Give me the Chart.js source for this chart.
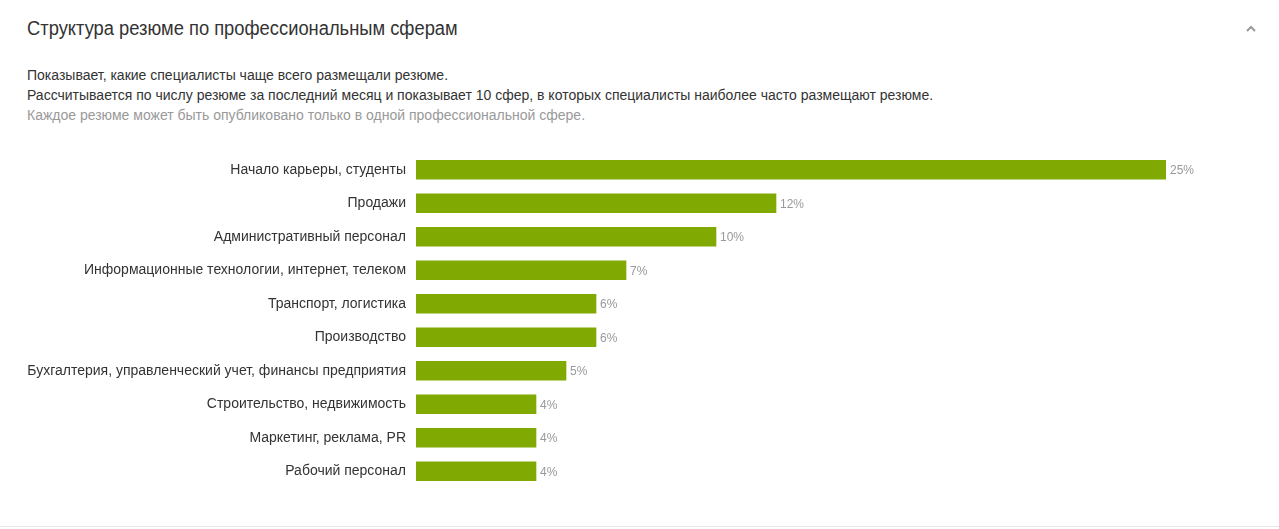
<!DOCTYPE html>
<html>
<head>
<meta charset="utf-8">
<script src="https://cdn.jsdelivr.net/npm/chart.js@4"></script>
<style>
  html, body { margin: 0; padding: 0; background: #fff; }
  body { width: 1279px; height: 529px; position: relative; overflow: hidden;
         font-family: Arial, "Liberation Sans", sans-serif; color: #333; }
  .title { position: absolute; left: 27px; top: 16px; font-size: 20px; line-height: 24px; color: #333;
           white-space: nowrap; transform: scaleX(0.917); transform-origin: left center; }
  .toggle { position: absolute; left: 1245px; top: 24px; width: 12px; height: 10px; }
  .desc { position: absolute; left: 27px; top: 65px; font-size: 14px; line-height: 20px; color: #333; }
  .desc .muted { color: #999; }
  .chart-box { position: absolute; left: 0; top: 153px; width: 1279px; height: 335px; }
  .bottom-line { position: absolute; left: 0; right: 0; top: 526px; height: 1px; background: #e6e6e6; }
</style>
</head>
<body>
<div class="title">Структура резюме по профессиональным сферам</div>
<svg class="toggle" viewBox="0 0 12 10"><polyline points="2,7 6,3 10,7" fill="none" stroke="#999" stroke-width="2"/></svg>
<div class="desc">
  Показывает, какие специалисты чаще всего размещали резюме.<br>
  Рассчитывается по числу резюме за последний месяц и показывает 10 сфер, в которых специалисты наиболее часто размещают резюме.<br>
  <span class="muted">Каждое резюме может быть опубликовано только в одной профессиональной сфере.</span>
</div>
<div class="chart-box"><canvas id="myChart"></canvas></div>
<div class="bottom-line"></div>

<script>
// chart data
const categories = [
    'Начало карьеры, студенты',
    'Продажи',
    'Административный персонал',
    'Информационные технологии, интернет, телеком',
    'Транспорт, логистика',
    'Производство',
    'Бухгалтерия, управленческий учет, финансы предприятия',
    'Строительство, недвижимость',
    'Маркетинг, реклама, PR',
    'Рабочий персонал'
];
const shares = [25, 12, 10, 7, 6, 6, 5, 4, 4, 4];
const axisMax = 25;

// подписи процентов справа от столбцов
const valueLabels = {
    id: 'valueLabels',
    afterDatasetsDraw(chart) {
        const ctx = chart.ctx;
        const meta = chart.getDatasetMeta(0);
        ctx.save();
        ctx.font = '12px Arial, "Liberation Sans", sans-serif';
        ctx.fillStyle = '#999';
        ctx.textAlign = 'left';
        ctx.textBaseline = 'middle';
        meta.data.forEach((bar, i) => {
            ctx.fillText(shares[i] + '%', bar.x + 4, bar.y + 1);
        });
        ctx.restore();
    }
};

const config = {
    type: 'bar',
    data: {
        labels: categories,
        datasets: [{
            data: shares,
            backgroundColor: '#80a901',
            barThickness: 19,
            borderWidth: 0
        }]
    },
    options: {
        indexAxis: 'y',
        responsive: true,
        maintainAspectRatio: false,
        animation: false,
        layout: {
            padding: { left: 0, right: 113, top: 0, bottom: 0 }
        },
        plugins: {
            legend: { display: false },
            tooltip: { enabled: false }
        },
        scales: {
            x: {
                display: false,
                min: 0,
                max: axisMax
            },
            y: {
                grid: { display: false, drawTicks: false },
                border: { display: false },
                ticks: {
                    color: '#333',
                    padding: 10,
                    font: { size: 14, family: 'Arial, "Liberation Sans", sans-serif' }
                },
                afterFit: function(scale) {
                    scale.width = 416;
                    scale.paddingTop = 0;
                    scale.paddingBottom = 0;
                }
            }
        }
    },
    plugins: [valueLabels]
};

let myChart = new Chart(document.getElementById('myChart'), config);
</script>
</body>
</html>
